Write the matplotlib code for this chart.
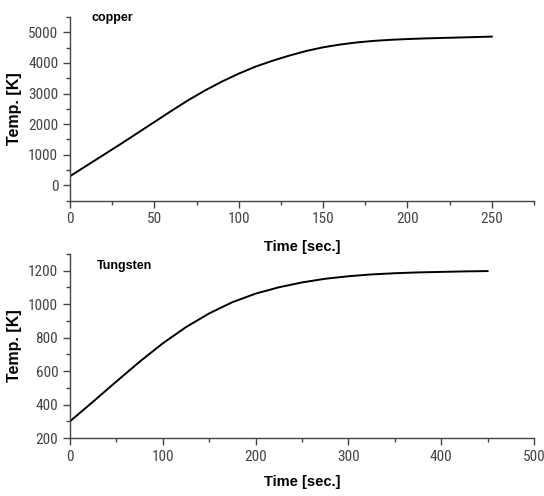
import matplotlib.pyplot as plt
from matplotlib import font_manager
from matplotlib.ticker import MultipleLocator

# copper curve
cu_time = [0, 10, 20, 30, 40, 50, 60, 70, 80, 90, 100, 110, 120, 130,
           140, 150, 160, 170, 180, 190, 200, 210, 220, 230, 240, 250]
cu_temp = [300, 650, 1000, 1350, 1710, 2070, 2430, 2780, 3100, 3390, 3650,
           3880, 4070, 4240, 4390, 4510, 4600, 4670, 4720, 4755, 4780,
           4800, 4815, 4830, 4845, 4860]

# tungsten curve
w_time = [0, 25, 50, 75, 100, 125, 150, 175, 200, 225, 250, 275, 300, 325,
          350, 375, 400, 425, 450]
w_temp = [300, 418, 538, 656, 766, 863, 945, 1012, 1063, 1101, 1130, 1152,
          1167, 1178, 1185, 1190, 1193, 1196, 1198]

names = set(f.name for f in font_manager.fontManager.ttflist)
tick_font = ['Liberation Sans Narrow', 'Roboto Condensed', 'DejaVu Sans Condensed', 'DejaVu Sans']
tick_font = [f for f in tick_font if f in names] or ['DejaVu Sans']
label_font = ['Liberation Sans', 'DejaVu Sans']

fig = plt.figure(figsize=(5.44, 4.96), dpi=100)
ax1 = fig.add_axes([0.1287, 0.5954, 0.8529, 0.3703])
ax2 = fig.add_axes([0.1287, 0.1169, 0.8529, 0.3710])


def style(ax, xmaj, xmin, ymaj, ymin):
    for s in ['top', 'right']:
        ax.spines[s].set_visible(False)
    for s in ['left', 'bottom']:
        ax.spines[s].set_color('#444444')
        ax.spines[s].set_linewidth(1.0)
    ax.xaxis.set_major_locator(MultipleLocator(xmaj))
    ax.xaxis.set_minor_locator(MultipleLocator(xmin))
    ax.yaxis.set_major_locator(MultipleLocator(ymaj))
    ax.yaxis.set_minor_locator(MultipleLocator(ymin))
    ax.tick_params(which='major', direction='out', length=5, width=1,
                   color='#444444', labelcolor='#444444', labelsize=11,
                   labelfontfamily=tick_font)
    ax.tick_params(which='minor', direction='out', length=3, width=1,
                   color='#444444')


ax1.plot(cu_time, cu_temp, color='black', linewidth=1.4)
ax1.set_xlim(0, 275)
ax1.set_ylim(-500, 5500)
style(ax1, 50, 25, 1000, 500)
ax1.set_xlabel('Time [sec.]', fontsize=10.5, fontweight='bold', family=label_font)
ax1.set_ylabel('Temp. [K]', fontsize=11.5, fontweight='bold', family=label_font)
ax1.xaxis.set_label_coords(0.5, -0.214)
ax1.yaxis.set_label_coords(-0.103, 0.5)
ax1.text(0.047, 0.997, 'copper', transform=ax1.transAxes, fontsize=9,
         fontweight='bold', family=label_font, va='center', ha='left')

ax2.plot(w_time, w_temp, color='black', linewidth=1.4)
ax2.set_xlim(0, 500)
ax2.set_ylim(200, 1300)
style(ax2, 100, 50, 200, 100)
ax2.set_xlabel('Time [sec.]', fontsize=10.5, fontweight='bold', family=label_font)
ax2.set_ylabel('Temp. [K]', fontsize=11.5, fontweight='bold', family=label_font)
ax2.xaxis.set_label_coords(0.5, -0.201)
ax2.yaxis.set_label_coords(-0.103, 0.5)
ax2.text(0.058, 0.935, 'Tungsten', transform=ax2.transAxes, fontsize=9,
         fontweight='bold', family=label_font, va='center', ha='left')

fig.savefig('out.png', dpi=100)
